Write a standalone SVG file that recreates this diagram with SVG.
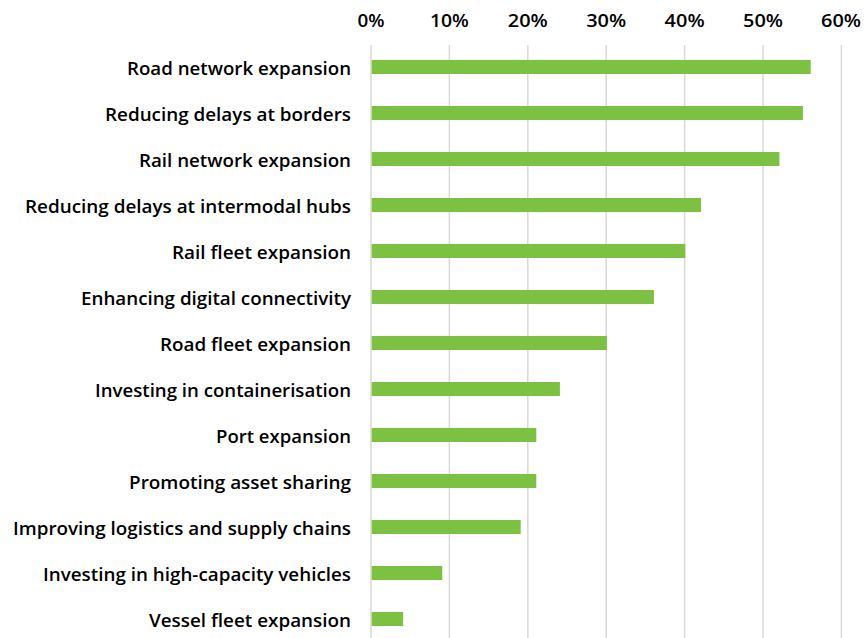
<svg xmlns="http://www.w3.org/2000/svg" width="865" height="638" viewBox="0 0 865 638">
<style>
.grid{stroke:#D9D9D9;stroke-width:1.5}
.bar{fill:#7DC142}
.lbl{font-family:"Open Sans","Liberation Sans",Arial,sans-serif;font-weight:600;font-size:18px;fill:#000;text-anchor:end}
.tick{font-family:"Open Sans","Liberation Sans",Arial,sans-serif;font-weight:600;font-size:18px;fill:#000;text-anchor:middle}
</style>
<rect width="865" height="638" fill="#fff"/>
<g id="gridlines">
<line class="grid" x1="371" y1="45" x2="371" y2="638"/>
<line class="grid" x1="449.4" y1="45" x2="449.4" y2="638"/>
<line class="grid" x1="527.8" y1="45" x2="527.8" y2="638"/>
<line class="grid" x1="606.2" y1="45" x2="606.2" y2="638"/>
<line class="grid" x1="684.6" y1="45" x2="684.6" y2="638"/>
<line class="grid" x1="763" y1="45" x2="763" y2="638"/>
<line class="grid" x1="841.4" y1="45" x2="841.4" y2="638"/>
</g>
<g id="axis">
<text class="tick" x="371" y="27" textLength="27" lengthAdjust="spacingAndGlyphs">0%</text>
<text class="tick" x="449.4" y="27" textLength="39" lengthAdjust="spacingAndGlyphs">10%</text>
<text class="tick" x="527.8" y="27" textLength="40" lengthAdjust="spacingAndGlyphs">20%</text>
<text class="tick" x="606.2" y="27" textLength="40" lengthAdjust="spacingAndGlyphs">30%</text>
<text class="tick" x="684.6" y="27" textLength="40" lengthAdjust="spacingAndGlyphs">40%</text>
<text class="tick" x="763" y="27" textLength="40" lengthAdjust="spacingAndGlyphs">50%</text>
<text class="tick" x="841" y="27" textLength="40" lengthAdjust="spacingAndGlyphs">60%</text>
</g>
<g id="bars">
<g id="b1"><rect class="bar" x="371.7" y="60" width="439" height="14"/><text class="lbl" x="351" y="74.5" textLength="224" lengthAdjust="spacingAndGlyphs">Road network expansion</text></g>
<g id="b2"><rect class="bar" x="371.7" y="106" width="431.2" height="14"/><text class="lbl" x="351" y="120.5" textLength="246" lengthAdjust="spacingAndGlyphs">Reducing delays at borders</text></g>
<g id="b3"><rect class="bar" x="371.7" y="152" width="407.7" height="14"/><text class="lbl" x="351" y="166.5" textLength="212" lengthAdjust="spacingAndGlyphs">Rail network expansion</text></g>
<g id="b4"><rect class="bar" x="371.7" y="198" width="329.3" height="14"/><text class="lbl" x="351" y="212.5" textLength="326" lengthAdjust="spacingAndGlyphs">Reducing delays at intermodal hubs</text></g>
<g id="b5"><rect class="bar" x="371.7" y="244" width="313.6" height="14"/><text class="lbl" x="351" y="258.5" textLength="179" lengthAdjust="spacingAndGlyphs">Rail fleet expansion</text></g>
<g id="b6"><rect class="bar" x="371.7" y="290" width="282.2" height="14"/><text class="lbl" x="351" y="304.5" textLength="270" lengthAdjust="spacingAndGlyphs">Enhancing digital connectivity</text></g>
<g id="b7"><rect class="bar" x="371.7" y="336" width="235.2" height="14"/><text class="lbl" x="351" y="350.5" textLength="191" lengthAdjust="spacingAndGlyphs">Road fleet expansion</text></g>
<g id="b8"><rect class="bar" x="371.7" y="382" width="188.2" height="14"/><text class="lbl" x="351" y="396.5" textLength="256" lengthAdjust="spacingAndGlyphs">Investing in containerisation</text></g>
<g id="b9"><rect class="bar" x="371.7" y="428" width="164.6" height="14"/><text class="lbl" x="351" y="442.5" textLength="135" lengthAdjust="spacingAndGlyphs">Port expansion</text></g>
<g id="b10"><rect class="bar" x="371.7" y="474" width="164.6" height="14"/><text class="lbl" x="351" y="488.5" textLength="222" lengthAdjust="spacingAndGlyphs">Promoting asset sharing</text></g>
<g id="b11"><rect class="bar" x="371.7" y="520" width="149" height="14"/><text class="lbl" x="351" y="534.5" textLength="338" lengthAdjust="spacingAndGlyphs">Improving logistics and supply chains</text></g>
<g id="b12"><rect class="bar" x="371.7" y="566" width="70.6" height="14"/><text class="lbl" x="351" y="580.5" textLength="308" lengthAdjust="spacingAndGlyphs">Investing in high-capacity vehicles</text></g>
<g id="b13"><rect class="bar" x="371.7" y="612" width="31.4" height="14"/><text class="lbl" x="351" y="626.5" textLength="202" lengthAdjust="spacingAndGlyphs">Vessel fleet expansion</text></g>
</g>
</svg>
